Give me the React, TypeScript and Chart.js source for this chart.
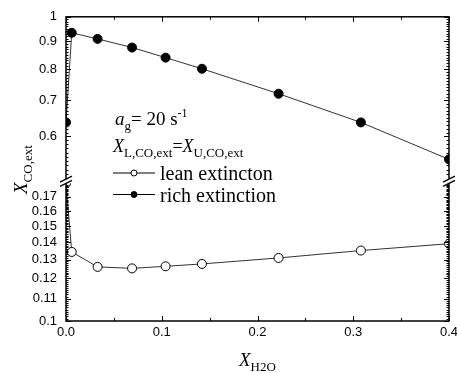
import React, { useEffect, useRef } from "react";
import { Chart, registerables } from "chart.js";
Chart.register(...registerables);

// ---- data ----
const xH2O = [0, 0.006, 0.033, 0.069, 0.104, 0.142, 0.222, 0.308, 0.4];
const leanExt = [0.18, 0.1343, 0.126, 0.1252, 0.1263, 0.1276, 0.1309, 0.1351, 0.1391];
const richExt = [0.637, 0.934, 0.91, 0.877, 0.84, 0.801, 0.72, 0.637, 0.544];
const seriesLabels = ["lean extincton", "rich extinction"];
const xTicks = [0, 0.1, 0.2, 0.3, 0.4];
const yTicksUpper = [0.6, 0.7, 0.8, 0.9, 1];
const yTicksLower = [0.1, 0.11, 0.12, 0.13, 0.14, 0.15, 0.16, 0.17];
const upperRange = [0.5, 1];
const lowerRange = [0.1, 0.18];

const SERIF = "'Liberation Serif', 'Times New Roman', serif";
const SANS = "'Liberation Sans', Arial, sans-serif";

type Run = { t: string; f: string; dy?: number };
function drawRuns(ctx: CanvasRenderingContext2D, x: number, y: number, runs: Run[]) {
  let cx = x;
  for (const r of runs) {
    ctx.font = r.f;
    ctx.fillText(r.t, cx, y + (r.dy || 0));
    cx += ctx.measureText(r.t).width;
  }
}

const framePlugin = {
  id: "frame",
  afterDraw(chart: any) {
    const ctx: CanvasRenderingContext2D = chart.ctx;
    const { left, right, top, bottom } = chart.chartArea;
    const xs = chart.scales.x;
    const yHi = chart.scales.yHigh;
    const yLo = chart.scales.yLow;
    ctx.save();
    ctx.strokeStyle = "#000";
    ctx.fillStyle = "#000";
    // frame
    ctx.lineWidth = 1.5;
    ctx.strokeRect(left, top, right - left, bottom - top);
    ctx.lineWidth = 1;
    const hTick = (v: number, len: number) => {
      const px = Math.round(xs.getPixelForValue(v)) + 0.5;
      ctx.beginPath();
      ctx.moveTo(px, bottom);
      ctx.lineTo(px, bottom - len);
      ctx.moveTo(px, top);
      ctx.lineTo(px, top + len);
      ctx.stroke();
    };
    xTicks.forEach((v) => hTick(v, 5));
    for (let i = 0; i < xTicks.length - 1; i++) hTick((xTicks[i] + xTicks[i + 1]) / 2, 3);
    const vTick = (sc: any, v: number, len: number) => {
      const py = Math.round(sc.getPixelForValue(v)) + 0.5;
      ctx.beginPath();
      ctx.moveTo(left, py);
      ctx.lineTo(left + len, py);
      ctx.moveTo(right, py);
      ctx.lineTo(right - len, py);
      ctx.stroke();
    };
    yTicksUpper.forEach((v) => vTick(yHi, v, 5));
    for (let k = 51; k < 100; k++) if (k % 10 !== 0) vTick(yHi, k / 100, 2.5);
    yTicksLower.forEach((v) => vTick(yLo, v, 5));
    for (let k = 101; k < 180; k++) if (k % 10 !== 0) vTick(yLo, k / 1000, 2.5);
    // axis break
    const g1 = yHi.bottom;
    const g2 = yLo.top;
    [left, right].forEach((x) => {
      ctx.fillStyle = "#fff";
      ctx.fillRect(x - 3, g1, 6, g2 - g1);
      ctx.lineWidth = 1.3;
      ctx.beginPath();
      ctx.moveTo(x - 6, g1 + 3);
      ctx.lineTo(x + 6, g1 - 3);
      ctx.moveTo(x - 6, g2 + 3);
      ctx.lineTo(x + 6, g2 - 3);
      ctx.stroke();
    });
    ctx.fillStyle = "#000";
    ctx.textBaseline = "alphabetic";
    ctx.textAlign = "left";
    // annotations
    drawRuns(ctx, 115, 125, [
      { t: "a", f: `italic 19px ${SERIF}` },
      { t: "g", f: `13px ${SERIF}`, dy: 5 },
      { t: "= 20 s", f: `19px ${SERIF}` },
      { t: "-1", f: `12px ${SERIF}`, dy: -8 },
    ]);
    drawRuns(ctx, 113, 152, [
      { t: "X", f: `italic 18px ${SERIF}` },
      { t: "L,CO,ext", f: `13px ${SERIF}`, dy: 5 },
      { t: "=", f: `18px ${SERIF}` },
      { t: "X", f: `italic 18px ${SERIF}` },
      { t: "U,CO,ext", f: `13px ${SERIF}`, dy: 5 },
    ]);
    // legend
    chart.data.datasets.forEach((ds: any, i: number) => {
      const ly = 173 + i * 21.5;
      ctx.strokeStyle = "#000";
      ctx.lineWidth = 1;
      ctx.beginPath();
      ctx.moveTo(113, ly);
      ctx.lineTo(155, ly);
      ctx.stroke();
      ctx.beginPath();
      ctx.arc(134, ly, 3, 0, Math.PI * 2);
      ctx.fillStyle = ds.pointBackgroundColor;
      ctx.fill();
      ctx.stroke();
      ctx.fillStyle = "#000";
      ctx.font = `20px ${SERIF}`;
      ctx.fillText(ds.label, 160, ly + 7);
    });
    // axis titles
    drawRuns(ctx, 239, 366, [
      { t: "X", f: `italic 19px ${SERIF}` },
      { t: "H2O", f: `13px ${SERIF}`, dy: 5 },
    ]);
    ctx.translate(27, 194);
    ctx.rotate(-Math.PI / 2);
    drawRuns(ctx, 0, 0, [
      { t: "X", f: `italic 19px ${SERIF}` },
      { t: "CO,ext", f: `13px ${SERIF}`, dy: 5 },
    ]);
    ctx.restore();
  },
};

const upperW = Math.log10(upperRange[1] / upperRange[0]);
const lowerW = Math.log10(lowerRange[1] / lowerRange[0]);
const gapW = 4.3 / 547;

export default function App() {
  const ref = useRef<HTMLCanvasElement>(null);
  useEffect(() => {
    const tickFont = { family: SANS, size: 13 };
    const chart = new Chart(ref.current!, {
      type: "line",
      data: {
        datasets: [
          {
            label: seriesLabels[0],
            data: xH2O.map((x, i) => ({ x, y: leanExt[i] })),
            yAxisID: "yLow",
            borderColor: "#333",
            borderWidth: 1,
            pointRadius: 4.5,
            pointBackgroundColor: "#fff",
            pointBorderColor: "#000",
            pointBorderWidth: 1,
            clip: 0,
          },
          {
            label: seriesLabels[1],
            data: xH2O.map((x, i) => ({ x, y: richExt[i] })),
            yAxisID: "yHigh",
            borderColor: "#333",
            borderWidth: 1,
            pointRadius: 4.5,
            pointBackgroundColor: "#000",
            pointBorderColor: "#000",
            pointBorderWidth: 1,
            clip: 0,
          },
        ] as any,
      },
      options: {
        animation: false,
        responsive: false,
        devicePixelRatio: 1,
        layout: { padding: { top: 12, right: 8, left: 0, bottom: 0 } },
        plugins: { legend: { display: false }, tooltip: { enabled: false } },
        scales: {
          x: {
            type: "linear",
            min: 0,
            max: 0.4,
            grid: { display: false, drawTicks: false },
            border: { display: false },
            ticks: {
              font: tickFont,
              color: "#000",
              padding: 4,
              maxRotation: 0,
              autoSkip: false,
              callback: (v: any) => Number(v).toFixed(1),
            },
            afterBuildTicks: (s: any) => {
              s.ticks = xTicks.map((value) => ({ value }));
            },
            afterFit: (s: any) => {
              s.height = 52;
              s.paddingLeft = 0;
              s.paddingRight = 0;
            },
          },
          yLow: {
            type: "logarithmic",
            position: "left",
            stack: "y",
            stackWeight: lowerW,
            min: lowerRange[0],
            max: lowerRange[1],
            grid: { display: false, drawTicks: false },
            border: { display: false },
            ticks: {
              font: tickFont,
              color: "#000",
              padding: 9,
              autoSkip: false,
              callback: (v: any) => String(Math.round(Number(v) * 100) / 100),
            },
            afterBuildTicks: (s: any) => {
              s.ticks = yTicksLower.map((value) => ({ value }));
            },
            afterFit: (s: any) => {
              s.width = 66;
            },
          },
          yGap: {
            type: "linear",
            position: "left",
            stack: "y",
            stackWeight: gapW,
            grid: { display: false, drawTicks: false },
            border: { display: false },
            ticks: { display: false },
            afterFit: (s: any) => {
              s.width = 66;
            },
          },
          yHigh: {
            type: "logarithmic",
            position: "left",
            stack: "y",
            stackWeight: upperW,
            min: upperRange[0],
            max: upperRange[1],
            grid: { display: false, drawTicks: false },
            border: { display: false },
            ticks: {
              font: tickFont,
              color: "#000",
              padding: 9,
              autoSkip: false,
              callback: (v: any) => String(Math.round(Number(v) * 10) / 10),
            },
            afterBuildTicks: (s: any) => {
              s.ticks = yTicksUpper.map((value) => ({ value }));
            },
            afterFit: (s: any) => {
              s.width = 66;
            },
          },
        } as any,
      },
      plugins: [framePlugin],
    });
    return () => chart.destroy();
  }, []);
  return (
    <div style={{ position: "absolute", left: 0, top: 0, width: 457, height: 373, background: "#fff" }}>
      <canvas ref={ref} width={457} height={373} style={{ width: 457, height: 373, display: "block" }} />
    </div>
  );
}
